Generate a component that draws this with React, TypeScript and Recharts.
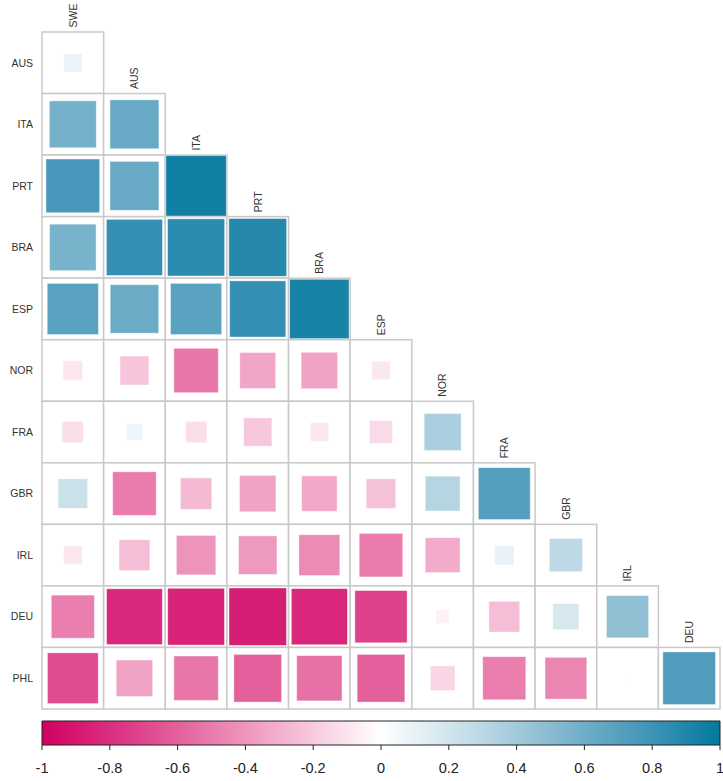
import { Scatter, ScatterChart, XAxis, YAxis, ZAxis, ReferenceArea } from 'recharts';

// Lower-triangle correlation matrix: one array per row, columns follow colNames.
const colNames = ['SWE', 'AUS', 'ITA', 'PRT', 'BRA', 'ESP', 'NOR', 'FRA', 'GBR', 'IRL', 'DEU'];
const rowNames = ['AUS', 'ITA', 'PRT', 'BRA', 'ESP', 'NOR', 'FRA', 'GBR', 'IRL', 'DEU', 'PHL'];

const corrAUS = [0.09];
const corrITA = [0.58, 0.63];
const corrPRT = [0.76, 0.63, 0.96];
const corrBRA = [0.57, 0.83, 0.86, 0.88];
const corrESP = [0.69, 0.62, 0.69, 0.83, 0.93];
const corrNOR = [-0.1, -0.22, -0.52, -0.34, -0.35, -0.09];
const corrFRA = [-0.12, 0.07, -0.12, -0.21, -0.09, -0.14, 0.36];
const corrGBR = [0.23, -0.5, -0.26, -0.35, -0.33, -0.23, 0.32, 0.71];
const corrIRL = [-0.09, -0.25, -0.41, -0.39, -0.44, -0.5, -0.32, 0.1, 0.29];
const corrDEU = [-0.49, -0.82, -0.85, -0.87, -0.83, -0.72, -0.05, -0.25, 0.18, 0.47];
const corrPHL = [-0.68, -0.35, -0.52, -0.6, -0.54, -0.6, -0.16, -0.49, -0.46, -0.01, 0.73];

const corrRows = [corrAUS, corrITA, corrPRT, corrBRA, corrESP, corrNOR, corrFRA, corrGBR, corrIRL, corrDEU, corrPHL];

const legendTicks = [-1, -0.8, -0.6, -0.4, -0.2, 0, 0.2, 0.4, 0.6, 0.8, 1];

// pink -> white -> teal diverging scale
const paletteStops: [number, string][] = [
  [-1, '#d20062'],
  [-0.8, '#da2e7f'],
  [-0.6, '#e4609c'],
  [-0.4, '#ee96bd'],
  [-0.2, '#f7cade'],
  [0, '#ffffff'],
  [0.2, '#d2e5ed'],
  [0.4, '#a3cadb'],
  [0.6, '#70aec8'],
  [0.8, '#3d93b6'],
  [1, '#037a9e'],
];

function hexToRgb(hex: string) {
  const n = parseInt(hex.slice(1), 16);
  return [(n >> 16) & 255, (n >> 8) & 255, n & 255];
}

function corrColor(v: number) {
  for (let i = 0; i < paletteStops.length - 1; i++) {
    const [a, ca] = paletteStops[i];
    const [b, cb] = paletteStops[i + 1];
    if (v >= a && v <= b) {
      const t = (v - a) / (b - a);
      const A = hexToRgb(ca);
      const B = hexToRgb(cb);
      const c = A.map((x, k) => Math.round(x + (B[k] - x) * t));
      return `rgb(${c[0]},${c[1]},${c[2]})`;
    }
  }
  return '#ffffff';
}

const W = 723;
const H = 715;
const M = { top: 32, right: 3, bottom: 6, left: 0 };
const AXIS_W = 42;
const N = colNames.length;
const CELL_W = (W - AXIS_W - M.right) / N;
const CELL_H = (H - M.top - M.bottom) / N;

const cells = corrRows.flatMap((row, r) =>
  row.map((v, c) => ({ x: c + 0.5, y: r + 0.5, r: v, mag: Math.abs(v) })),
);
const colLabels = colNames.map((name, c) => ({ x: c + 0.5, y: c, name }));
const legendPoints = legendTicks.map((v) => ({ v, y: 0 }));

const FONT = '"Liberation Sans", Arial, sans-serif';

function CellFrame(props: any) {
  const { cx, cy } = props;
  return (
    <rect x={cx - CELL_W / 2} y={cy - CELL_H / 2} width={CELL_W} height={CELL_H}
      fill="#ffffff" stroke="#c9c9c9" strokeWidth={1.5} />
  );
}

function CellSquare(props: any) {
  const { cx, cy, payload } = props;
  let area = props.size;
  if (area == null && props.width != null) area = Math.PI * (props.width / 2) ** 2;
  if (area == null) area = payload.mag * CELL_W * CELL_W;
  const side = Math.sqrt(Math.max(area, 0));
  if (side < 0.5) return <g />;
  return (
    <rect x={cx - side / 2} y={cy - side / 2} width={side} height={side}
      fill={corrColor(payload.r)} stroke="#ffffff" strokeOpacity={0.5} strokeWidth={0.8} />
  );
}

function ColLabel(props: any) {
  const { cx, cy, payload } = props;
  const px = cx + 3.8;
  const py = cy - 4.5;
  return (
    <text x={px} y={py} transform={`rotate(-90, ${px}, ${py})`} textAnchor="start"
      fontSize={10.5} fill="#333" fontFamily={FONT}>
      {payload.name}
    </text>
  );
}

export default function App() {
  return (
    <div style={{ position: 'relative', width: W, height: 781, background: '#fff', fontFamily: FONT }}>
      <style>{'body{margin:0}'}</style>
      <ScatterChart width={W} height={H} margin={M}>
        <XAxis type="number" dataKey="x" domain={[0, N]} hide />
        <YAxis type="number" dataKey="y" domain={[0, N]} reversed width={AXIS_W}
          ticks={rowNames.map((_, i) => i + 0.5)} tickFormatter={(v: number) => rowNames[Math.floor(v)]}
          interval={0} axisLine={false} tickLine={false} tickMargin={3}
          tick={{ fontSize: 10.5, fill: '#333', fontFamily: FONT }} />
        <ZAxis type="number" dataKey="mag" domain={[0, 1]} range={[0, CELL_W * CELL_H]} />
        <Scatter data={cells} shape={CellFrame} isAnimationActive={false} />
        <Scatter data={cells} shape={CellSquare} isAnimationActive={false} />
        <Scatter data={colLabels} shape={ColLabel} isAnimationActive={false} />
      </ScatterChart>
      <div style={{ position: 'absolute', left: 0, top: 712 }}>
        <ScatterChart width={W} height={69} margin={{ top: 9, right: 3, bottom: 5, left: 42 }}>
          <defs>
            <linearGradient id="corrScale" x1="0" x2="1" y1="0" y2="0">
              {paletteStops.map(([v, c]) => (
                <stop key={v} offset={`${((v + 1) / 2) * 100}%`} stopColor={c} />
              ))}
            </linearGradient>
          </defs>
          <XAxis type="number" dataKey="v" domain={[-1, 1]} ticks={legendTicks} interval={0}
            height={31} axisLine={false} tickSize={5} tickMargin={13}
            tickLine={{ stroke: '#222' }} tick={{ fontSize: 14.5, fill: '#222', fontFamily: FONT }} />
          <YAxis type="number" dataKey="y" domain={[0, 1]} hide />
          <ReferenceArea x1={-1} x2={1} y1={0} y2={1} fill="url(#corrScale)" fillOpacity={1}
            stroke="#222" strokeWidth={1} ifOverflow="visible" />
          <Scatter data={legendPoints} shape={() => <g />} isAnimationActive={false} />
        </ScatterChart>
      </div>
    </div>
  );
}
